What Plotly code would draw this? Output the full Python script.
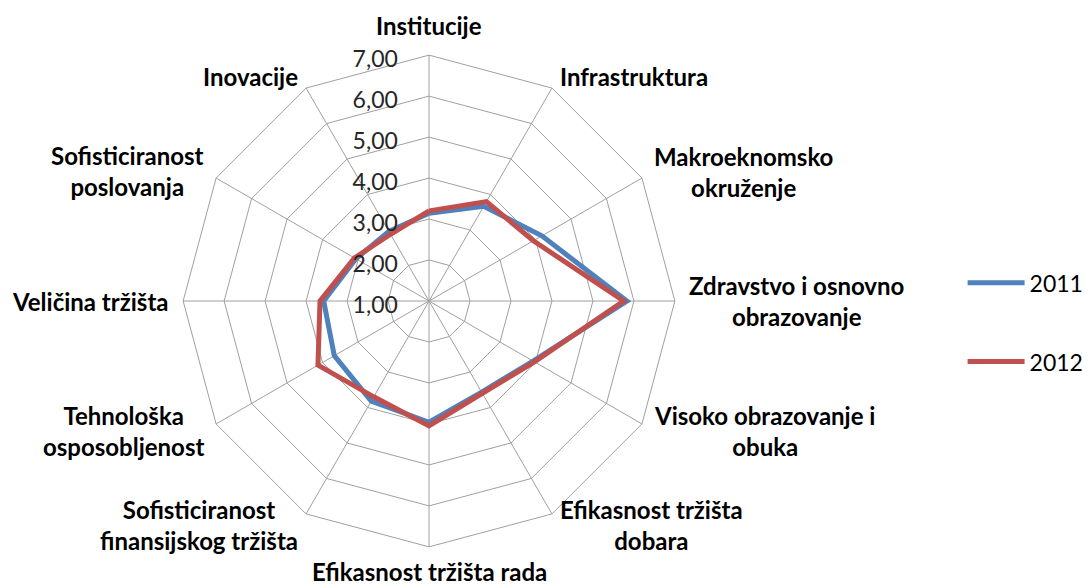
import math
import plotly.graph_objects as go

categories = [
    "Institucije",
    "Infrastruktura",
    "Makroeknomsko<br>okruženje",
    "Zdravstvo i osnovno<br>obrazovanje",
    "Visoko obrazovanje i<br>obuka",
    "Efikasnost tržišta<br>dobara",
    "Efikasnost tržišta rada",
    "Sofisticiranost<br>finansijskog tržišta",
    "Tehnološka<br>osposobljenost",
    "Veličina tržišta",
    "Sofisticiranost<br>poslovanja",
    "Inovacije",
]
values_2011 = [3.14, 3.67, 4.18, 5.83, 3.93, 3.57, 3.96, 3.82, 3.67, 3.57, 3.06, 2.96]
values_2012 = [3.20, 3.80, 3.94, 5.75, 3.97, 3.60, 4.05, 3.70, 4.13, 3.66, 3.10, 2.88]
series_names = ["2011", "2012"]
series_colors = ["#4F81BD", "#C0504D"]
radial_ticks = [1, 2, 3, 4, 5, 6, 7]

fig = go.Figure()
for name, vals, col in zip(series_names, [values_2011, values_2012], series_colors):
    fig.add_trace(go.Scatterpolar(
        r=vals + vals[:1],
        theta=categories + categories[:1],
        mode="lines",
        name=name,
        legendgroup=name,
        line=dict(color=col, width=5),
    ))

W, H = 1089, 588
cx, cy, R = 431, 301, 247
LABEL_GAP = 12
LABEL_SIZE = 24
LABEL_BOX_H = LABEL_SIZE * 1.3 + 2  # one text line plus annotation border padding

# category labels placed just outside each spoke of the polar frame (Excel-style, centred lines)
annotations = []
n = len(categories)
for i, cat in enumerate(categories):
    a = math.radians(90 - 360 * i / n)
    ux, uy = math.cos(a), -math.sin(a)
    px = cx + (R + LABEL_GAP) * ux
    py = cy + (R + LABEL_GAP) * uy
    if abs(ux) < 0.01:
        xa = "center"
        ya = "bottom" if uy < 0 else "top"
        if ya == "top":
            py = min(py, H - LABEL_BOX_H)
    else:
        xa = "left" if ux > 0 else "right"
        ya = "middle"
    annotations.append(dict(
        text=cat, x=px / W, y=1 - py / H, xref="paper", yref="paper",
        xanchor=xa, yanchor=ya, align="center", showarrow=False,
        font=dict(family="Lato", size=LABEL_SIZE, color="#000000", weight="bold"),
    ))

fig.update_layout(
    width=W, height=H,
    margin=dict(l=0, r=0, t=0, b=0),
    paper_bgcolor="white",
    plot_bgcolor="white",
    separators=",.",
    font=dict(family="Lato", color="#000000"),
    annotations=annotations,
    polar=dict(
        domain=dict(x=[(cx - R) / W, (cx + R) / W], y=[1 - (cy + R) / H, 1 - (cy - R) / H]),
        bgcolor="white",
        gridshape="linear",
        angularaxis=dict(
            direction="clockwise",
            rotation=90,
            showline=True,
            linecolor="#A0A0A0",
            linewidth=1,
            gridcolor="#A0A0A0",
            gridwidth=1,
            ticks="",
            showticklabels=False,
        ),
        radialaxis=dict(
            range=[1, 7],
            tickvals=radial_ticks,
            tickformat=".2f",
            angle=90,
            side="counterclockwise",
            showline=False,
            ticks="outside",
            ticklen=10,
            tickcolor="rgba(0,0,0,0)",
            gridcolor="#A0A0A0",
            gridwidth=1,
            tickfont=dict(family="Lato", size=23, color="#262626"),
        ),
    ),
    showlegend=True,
    legend=dict(
        x=0.888, y=0.452, xanchor="left", yanchor="middle",
        font=dict(family="Lato", size=23, color="#000000"),
        tracegroupgap=46,
        itemwidth=57,
        bgcolor="rgba(0,0,0,0)",
    ),
)

fig.write_html("out.html", config={"displayModeBar": False},
               post_script="document.body.style.margin='0px';")
